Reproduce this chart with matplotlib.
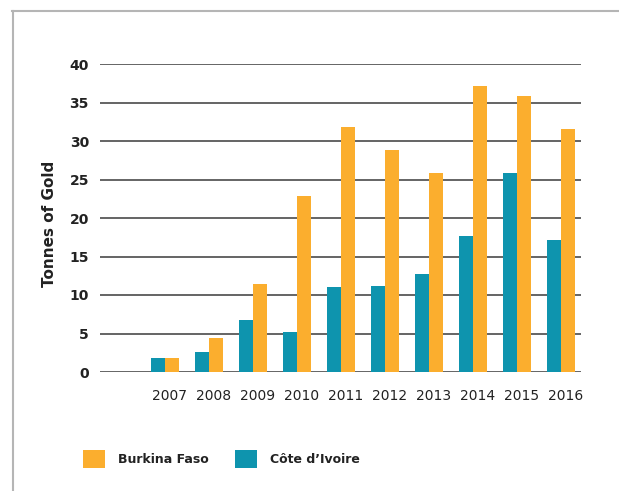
import matplotlib
matplotlib.use("Agg")
import matplotlib.pyplot as plt
from matplotlib.lines import Line2D
import numpy as np

plt.rcParams["font.family"] = "DejaVu Sans"

years = ["2007", "2008", "2009", "2010", "2011", "2012", "2013", "2014", "2015", "2016"]
burkina = [1.8, 4.4, 11.4, 22.8, 31.8, 28.8, 25.9, 37.2, 35.8, 31.5]
cote = [1.8, 2.6, 6.8, 5.2, 11.0, 11.2, 12.7, 17.6, 25.9, 17.1]

orange = "#FBAE2E"
teal = "#0E94AE"

fig = plt.figure(figsize=(6.19, 4.91), dpi=100)
ax = fig.add_axes([100 / 619, 1 - 372 / 491, 481 / 619, 308 / 491])

x = np.arange(len(years))
w = 0.32
ax.bar(x - w / 2, cote, w, color=teal, label="Côte d’Ivoire", zorder=3)
ax.bar(x + w / 2, burkina, w, color=orange, label="Burkina Faso", zorder=3)

ax.set_xlim(-1.48, 9.45)
ax.set_ylim(0, 40)
yt = np.arange(0, 41, 5)
ax.set_yticks(yt)
for v in yt:
    ax.axhline(v, color="#3a3a3a", lw=1.1, zorder=1)
ax.set_xticks(x + 0.1)
ax.set_xticklabels(years, fontsize=10, color="#222222")
ax.tick_params(axis="x", length=0, pad=12)
ax.tick_params(axis="y", length=0, pad=8, labelsize=10, labelcolor="#222222")
for t in ax.get_yticklabels():
    t.set_fontweight("bold")
for s in ax.spines.values():
    s.set_visible(False)

fig.text(49 / 619, 1 - 224 / 491, "Tonnes of Gold", rotation=90, fontsize=11,
         fontweight="bold", ha="center", va="center", color="#222222")

h, l = ax.get_legend_handles_labels()
leg = fig.legend(h[::-1], l[::-1], loc="center left", bbox_to_anchor=(83 / 619, 1 - 459 / 491),
                 ncol=2, frameon=False, borderpad=0, borderaxespad=0, handlelength=1.76,
                 handleheight=1.76, handletextpad=1.04, columnspacing=2.1,
                 prop={"size": 9, "weight": "bold"})
for t in leg.get_texts():
    t.set_color("#222222")

# frame around the figure
fig.add_artist(Line2D([13 / 619, 13 / 619], [0, 1 - 11 / 491], color="#b5b5b5", lw=1.5))
fig.add_artist(Line2D([12 / 619, 1.01], [1 - 11 / 491, 1 - 11 / 491], color="#b5b5b5", lw=1.5))

fig.savefig("out.png", dpi=100)
